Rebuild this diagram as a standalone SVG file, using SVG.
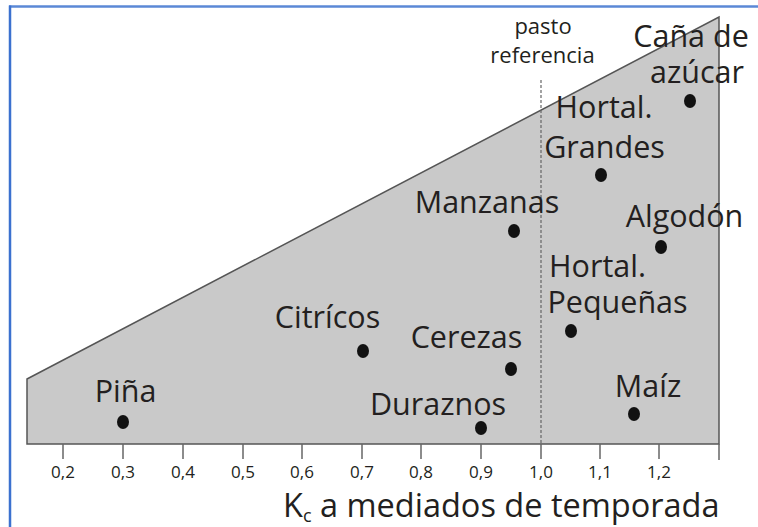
<svg xmlns="http://www.w3.org/2000/svg" width="758" height="527" viewBox="0 0 758 527">
<style>
.lbl{font-family:"Open Sans","Liberation Sans",sans-serif;font-size:30.5px;fill:#231f20;text-anchor:middle}
.small{font-family:"Open Sans","Liberation Sans",sans-serif;font-size:22px;fill:#231f20;text-anchor:middle}
.tick{font-family:"Open Sans","Liberation Sans",sans-serif;font-size:17px;fill:#231f20;text-anchor:middle}
.dot{fill:#111}
.tk{stroke:#666;stroke-width:1.5}
</style>
<rect x="0" y="0" width="758" height="527" fill="#fff"/>
<g id="frame">
<line x1="9" y1="6.5" x2="758" y2="6.5" stroke="#5b88d6" stroke-width="2.5"/>
<line x1="10" y1="5.5" x2="10" y2="527" stroke="#3b71cf" stroke-width="2.5"/>
</g>
<g id="area">
<polygon points="27,379 719,17 719,444 27,444" fill="#c9c9c9" stroke="#555" stroke-width="1.5" stroke-linejoin="miter"/>
</g>
<g id="connectors">
<line x1="541" y1="80" x2="541" y2="444" stroke="#666" stroke-width="1.2" stroke-dasharray="3,2"/>
</g>
<g id="axis">
<line class="tk" x1="63" y1="444" x2="63" y2="459"/>
<line class="tk" x1="123" y1="444" x2="123" y2="459"/>
<line class="tk" x1="183" y1="444" x2="183" y2="459"/>
<line class="tk" x1="243" y1="444" x2="243" y2="459"/>
<line class="tk" x1="302" y1="444" x2="302" y2="459"/>
<line class="tk" x1="362" y1="444" x2="362" y2="459"/>
<line class="tk" x1="421" y1="444" x2="421" y2="459"/>
<line class="tk" x1="481" y1="444" x2="481" y2="459"/>
<line class="tk" x1="541" y1="444" x2="541" y2="459"/>
<line class="tk" x1="600" y1="444" x2="600" y2="459"/>
<line class="tk" x1="659" y1="444" x2="659" y2="459"/>
<line class="tk" x1="719" y1="444" x2="719" y2="460"/>
<text class="tick" x="63" y="478">0,2</text>
<text class="tick" x="123" y="478">0,3</text>
<text class="tick" x="183" y="478">0,4</text>
<text class="tick" x="243" y="478">0,5</text>
<text class="tick" x="302" y="478">0,6</text>
<text class="tick" x="362" y="478">0,7</text>
<text class="tick" x="421" y="478">0,8</text>
<text class="tick" x="481" y="478">0,9</text>
<text class="tick" x="541" y="478">1,0</text>
<text class="tick" x="600" y="478">1,1</text>
<text class="tick" x="659" y="478">1,2</text>
<text x="283" y="517" font-family="'Open Sans','Liberation Sans',sans-serif" font-size="32.5" fill="#231f20">K<tspan font-size="18" dy="5">c</tspan><tspan dy="-5"> a mediados de temporada</tspan></text>
</g>
<g id="ref">
<text class="small"><tspan x="543" y="34">pasto</tspan><tspan x="542.5" y="63">referencia</tspan></text>
</g>
<g id="cana">
<text class="lbl"><tspan x="691" y="47">Caña de</tspan><tspan x="697" y="83">azúcar</tspan></text>
<ellipse class="dot" cx="690" cy="101" rx="6" ry="7"/>
</g>
<g id="hortal-grandes">
<text class="lbl"><tspan x="604" y="118">Hortal.</tspan><tspan x="604.5" y="158">Grandes</tspan></text>
<ellipse class="dot" cx="601" cy="175" rx="6" ry="7"/>
</g>
<g id="manzanas">
<text class="lbl" x="487" y="213">Manzanas</text>
<ellipse class="dot" cx="514" cy="231" rx="6" ry="7"/>
</g>
<g id="algodon">
<text class="lbl" x="684.5" y="227">Algodón</text>
<ellipse class="dot" cx="661" cy="247" rx="6" ry="7"/>
</g>
<g id="hortal-pequenas">
<text class="lbl"><tspan x="597.5" y="277">Hortal.</tspan><tspan x="617.5" y="313">Pequeñas</tspan></text>
<ellipse class="dot" cx="571" cy="331" rx="6" ry="7"/>
</g>
<g id="citricos">
<text class="lbl" x="327.5" y="328">Citrícos</text>
<ellipse class="dot" cx="363" cy="351" rx="6" ry="7"/>
</g>
<g id="cerezas">
<text class="lbl" x="466.5" y="348">Cerezas</text>
<ellipse class="dot" cx="511" cy="369" rx="6" ry="7"/>
</g>
<g id="pina">
<text class="lbl" x="125.5" y="402">Piña</text>
<ellipse class="dot" cx="123" cy="422" rx="6" ry="7"/>
</g>
<g id="duraznos">
<text class="lbl" x="438" y="415">Duraznos</text>
<ellipse class="dot" cx="481" cy="428" rx="6" ry="7"/>
</g>
<g id="maiz">
<text class="lbl" x="648" y="397">Maíz</text>
<ellipse class="dot" cx="634" cy="414" rx="6" ry="7"/>
</g>
</svg>
